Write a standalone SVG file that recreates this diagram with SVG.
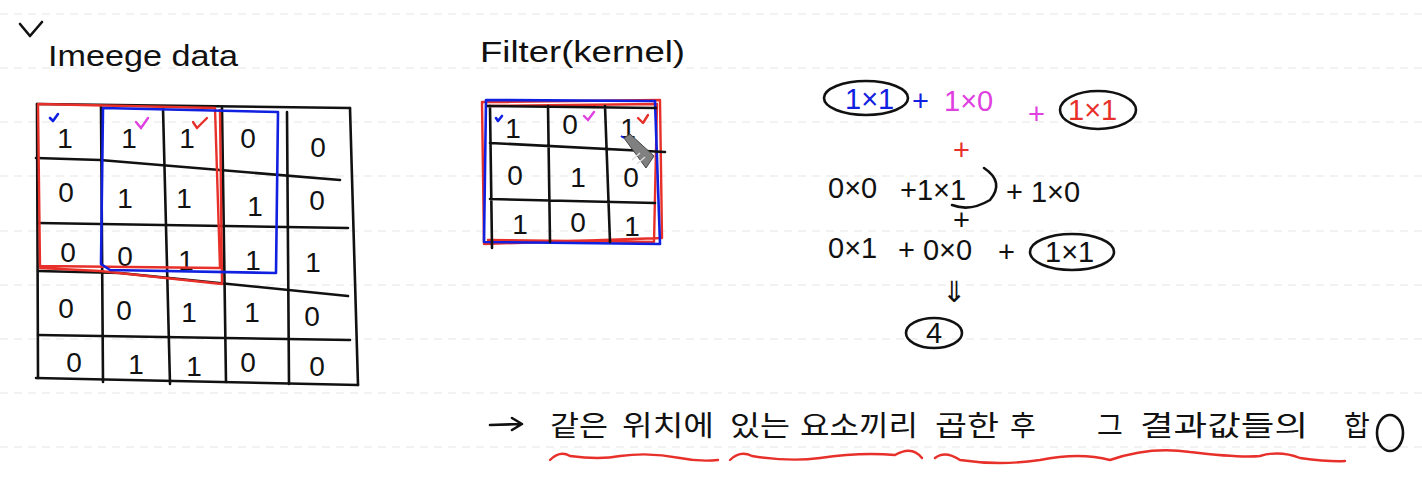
<svg xmlns="http://www.w3.org/2000/svg" width="1422" height="488" viewBox="0 0 1422 488">
<style>
.guide{stroke:#e6e6e6;stroke-width:1.2;stroke-dasharray:8 6;fill:none}
.ink{stroke:#111;stroke-width:2.6;fill:none;stroke-linecap:round;stroke-linejoin:round}
.red{stroke:#e8302a;stroke-width:2.4;fill:none;stroke-linecap:round;stroke-linejoin:round}
.blue{stroke:#1020e0;stroke-width:2.6;fill:none;stroke-linecap:round;stroke-linejoin:round}
.mag{stroke:#e040e0;stroke-width:2.4;fill:none;stroke-linecap:round}
.d{font-family:"Liberation Sans",Arial,sans-serif;font-size:28px;fill:#111;text-anchor:middle}
.h{font-family:"Liberation Sans",Arial,sans-serif;fill:#111}
.eq{font-family:"Liberation Sans",Arial,sans-serif;font-size:29px;fill:#111}
.kr{font-family:"Noto Sans CJK KR","Noto Sans",sans-serif;font-size:28px;fill:#111}
</style>
<rect width="1422" height="488" fill="#fff"/>
<g id="guides">
<line class="guide" x1="0" y1="14" x2="1422" y2="14"/>
<line class="guide" x1="0" y1="68" x2="1422" y2="68"/>
<line class="guide" x1="0" y1="122" x2="1422" y2="122"/>
<line class="guide" x1="0" y1="176" x2="1422" y2="176"/>
<line class="guide" x1="0" y1="231" x2="1422" y2="231"/>
<line class="guide" x1="0" y1="285" x2="1422" y2="285"/>
<line class="guide" x1="0" y1="339" x2="1422" y2="339"/>
<line class="guide" x1="0" y1="393" x2="1422" y2="393"/>
<line class="guide" x1="0" y1="447" x2="1422" y2="447"/>
</g>
<g id="title-image">
<path class="ink" d="M20 24 L30 36 L42 22"/>
<text class="h" x="48" y="66" font-size="30" textLength="190" lengthAdjust="spacingAndGlyphs">Imeege data</text>
</g>
<g id="image-grid">
<path class="ink" d="M37 104 L350 108 M36 158 L100 160 L340 180 M38 223 L348 228 M38 271 L120 273 L348 296 M38 335 L350 340 M36 378 L358 385"/>
<path class="ink" d="M37 104 L38 378 M101 106 L103 382 M163 108 L170 384 M222 108 L226 382 M287 112 L289 384 M350 108 L358 385"/>
<text class="d" x="65" y="148">1</text><text class="d" x="129" y="148">1</text><text class="d" x="187" y="148">1</text><text class="d" x="248" y="148">0</text><text class="d" x="318" y="157">0</text>
<text class="d" x="66" y="202">0</text><text class="d" x="125" y="208">1</text><text class="d" x="184" y="208">1</text><text class="d" x="255" y="216">1</text><text class="d" x="317" y="210">0</text>
<text class="d" x="68" y="262">0</text><text class="d" x="125" y="266">0</text><text class="d" x="186" y="270">1</text><text class="d" x="253" y="270">1</text><text class="d" x="313" y="272">1</text>
<text class="d" x="66" y="318">0</text><text class="d" x="124" y="320">0</text><text class="d" x="189" y="322">1</text><text class="d" x="252" y="322">1</text><text class="d" x="312" y="326">0</text>
<text class="d" x="74" y="372">0</text><text class="d" x="136" y="374">1</text><text class="d" x="194" y="376">1</text><text class="d" x="248" y="372">0</text><text class="d" x="317" y="376">0</text>
<path class="red" d="M38 104 L215 108 L220 268 L40 266 Z M40 268 L100 271 L222 284 L220 110"/>
<path class="blue" d="M103 108 L278 112 L276 273 L110 270 L101 264 Z"/>
<path class="blue" d="M50 118 L53 121 L58 114" stroke-width="2"/>
<path class="mag" d="M136 122 L141 128 L148 118"/>
<path class="red" d="M193 122 L197 128 L207 118"/>
</g>
<g id="title-filter">
<text class="h" x="480" y="62" font-size="30" textLength="205" lengthAdjust="spacingAndGlyphs">Filter(kernel)</text>
</g>
<g id="filter-grid">
<path class="red" d="M482 102 L660 100 L662 238 L484 244 Z M486 106 L657 104 L654 242 L488 240"/>
<path class="blue" d="M486 100 L655 101 L660 244 L484 242 Z"/>
<path class="ink" d="M488 106 L656 108 M490 143 L665 152 M490 199 L655 203 M548 106 L550 242 M605 106 L610 242 M490 106 L492 248"/>
<text class="d" x="513" y="138">1</text><text class="d" x="570" y="134">0</text><text class="d" x="628" y="138">1</text>
<text class="d" x="515" y="185">0</text><text class="d" x="578" y="187">1</text><text class="d" x="631" y="187">0</text>
<text class="d" x="520" y="234">1</text><text class="d" x="578" y="232">0</text><text class="d" x="632" y="236">1</text>
<path class="blue" d="M496 118 L498 121 L502 116" stroke-width="2"/>
<path class="mag" d="M584 116 L588 120 L594 112"/>
<path class="red" d="M638 118 L643 123 L648 115"/>
<g id="pen-cursor">
<path d="M624 138 L630 134 L654 156 L646 168 Z" fill="#808080" stroke="#444" stroke-width="1"/>
<path d="M624 138 L621 136" stroke="#1020e0" stroke-width="2"/>
<path d="M640 153 L632 160 M645 157 L637 164" stroke="#ddd" stroke-width="1.5"/>
</g>
</g>
<g id="equation">
<ellipse cx="866" cy="98" rx="42" ry="17" class="ink" stroke-width="1.6"/>
<text class="eq" x="845" y="109" style="fill:#1020e0">1×1</text>
<text class="eq" x="912" y="111" style="fill:#1020e0">+</text>
<text class="eq" x="944" y="111" style="fill:#e040e0">1×0</text>
<text class="eq" x="1028" y="124" style="fill:#e040e0">+</text>
<ellipse cx="1098" cy="110" rx="38" ry="19" class="ink" stroke-width="1.6"/>
<text class="eq" x="1068" y="120" style="fill:#e8302a">1×1</text>
<text class="eq" x="953" y="160" font-size="26" style="fill:#e8302a">+</text>
<text class="eq" x="828" y="198">0×0</text>
<text class="eq" x="900" y="200">+1×1</text>
<path class="ink" stroke-width="1.6" d="M984 168 Q1005 182 990 200 Q970 212 952 205"/>
<text class="eq" x="1006" y="202">+ 1×0</text>
<text class="eq" x="953" y="230" font-size="26">+</text>
<text class="eq" x="828" y="258">0×1</text>
<text class="eq" x="898" y="260">+ 0×0</text>
<text class="eq" x="998" y="262">+</text>
<ellipse cx="1072" cy="252" rx="42" ry="18" class="ink" stroke-width="1.6"/>
<text class="eq" x="1045" y="262">1×1</text>
<text class="eq" x="942" y="302" font-size="28">⇓</text>
<ellipse cx="934" cy="333" rx="28" ry="15" class="ink" stroke-width="2"/>
<text class="eq" x="926" y="343">4</text>
</g>
<g id="note">
<path class="ink" d="M490 425 L520 424 M512 418 L522 424 L512 430" stroke-width="2.2"/>
<text class="kr" x="550" y="436" textLength="58" lengthAdjust="spacingAndGlyphs">같은</text>
<text class="kr" x="622" y="436" textLength="92" lengthAdjust="spacingAndGlyphs">위치에</text>
<text class="kr" x="730" y="436" textLength="60" lengthAdjust="spacingAndGlyphs">있는</text>
<text class="kr" x="800" y="436" textLength="118" lengthAdjust="spacingAndGlyphs">요소끼리</text>
<text class="kr" x="935" y="436" textLength="64" lengthAdjust="spacingAndGlyphs">곱한</text>
<text class="kr" x="1010" y="436">후</text>
<text class="kr" x="1097" y="436">그</text>
<text class="kr" x="1140" y="436" textLength="168" lengthAdjust="spacingAndGlyphs">결과값들의</text>
<text class="kr" x="1344" y="436">합</text>
<ellipse cx="1390" cy="433" rx="13" ry="18" class="ink" stroke-width="2"/>
<path class="red" stroke-width="2.6" d="M550 460 Q560 450 570 456 Q600 460 620 456 Q650 452 680 458 Q700 462 718 460"/>
<path class="red" stroke-width="2.6" d="M730 460 Q740 450 752 456 Q790 462 820 458 Q860 452 895 455 Q912 445 922 458"/>
<path class="red" stroke-width="2.6" d="M935 458 Q945 450 960 460 Q1000 466 1040 460 Q1080 452 1110 460 Q1150 446 1190 452 Q1240 458 1260 456 Q1280 450 1300 458 Q1330 462 1345 461"/>
</g>
</svg>
